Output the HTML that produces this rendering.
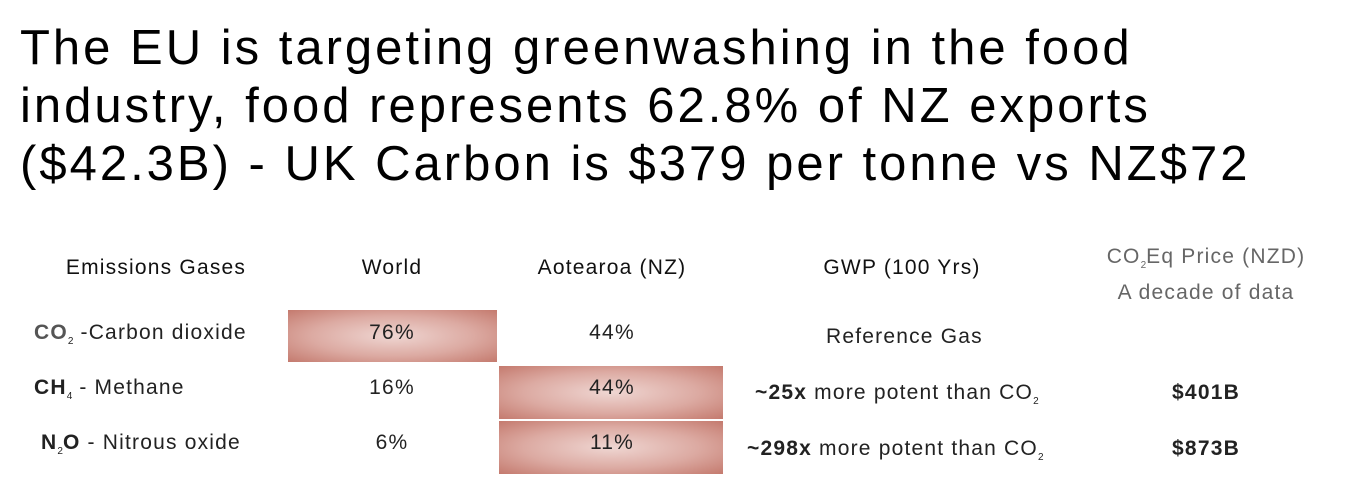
<!DOCTYPE html>
<html><head><meta charset="utf-8"><style>
body{margin:0;width:1355px;height:497px;background:#fff;position:relative;overflow:hidden;font-family:"Liberation Sans",sans-serif;color:#111}
.a{position:absolute;white-space:nowrap}
.t{left:20px;font-size:49px;letter-spacing:3px;color:#000;line-height:57px}
.h{font-size:21px;letter-spacing:1.2px;color:#111}
.c{transform:translateX(-50%)}
.r{font-size:21px;letter-spacing:1.2px;color:#222}
.box{position:absolute;background:radial-gradient(ellipse at center,#efd6d2 0%,#dcaaa2 55%,#c47a6e 100%)}
sub{font-size:10px;letter-spacing:0}
</style></head><body>
<div class="a t" style="top:20px">The EU is targeting greenwashing in the food</div>
<div class="a t" style="top:78px">industry, food represents 62.8% of NZ exports</div>
<div class="a t" style="top:136px">($42.3B) - UK Carbon is $379 per tonne vs NZ$72</div>

<div class="box" style="left:288px;top:310px;width:209px;height:52px"></div>
<div class="box" style="left:499px;top:366px;width:224px;height:53px"></div>
<div class="box" style="left:499px;top:421px;width:224px;height:53px"></div>

<div class="a h c" style="left:156px;top:256px">Emissions Gases</div>
<div class="a h c" style="left:392px;top:256px">World</div>
<div class="a h c" style="left:612px;top:256px">Aotearoa (NZ)</div>
<div class="a h c" style="left:902px;top:256px">GWP (100 Yrs)</div>
<div class="a h c" style="left:1206px;top:243px;color:#666;text-align:center;line-height:27px">CO<sub>2</sub>Eq Price (NZD)<br>A decade of data</div>

<div class="a r" style="left:34px;top:321px"><b style="color:#555">CO</b><sub>2</sub> -Carbon dioxide</div>
<div class="a r c" style="left:392px;top:321px">76%</div>
<div class="a r c" style="left:612px;top:321px">44%</div>
<div class="a r" style="left:826px;top:325px">Reference Gas</div>

<div class="a r" style="left:34px;top:376px"><b>CH</b><sub>4</sub> - Methane</div>
<div class="a r c" style="left:392px;top:376px">16%</div>
<div class="a r c" style="left:612px;top:376px">44%</div>
<div class="a r" style="left:755px;top:381px"><b>~25x</b> more potent than CO<sub>2</sub></div>
<div class="a r c" style="left:1206px;top:381px"><b>$401B</b></div>

<div class="a r" style="left:41px;top:431px"><b>N</b><sub>2</sub><b>O</b> - Nitrous oxide</div>
<div class="a r c" style="left:392px;top:431px">6%</div>
<div class="a r c" style="left:612px;top:431px">11%</div>
<div class="a r" style="left:747px;top:437px"><b>~298x</b> more potent than CO<sub>2</sub></div>
<div class="a r c" style="left:1206px;top:437px"><b>$873B</b></div>
</body></html>
